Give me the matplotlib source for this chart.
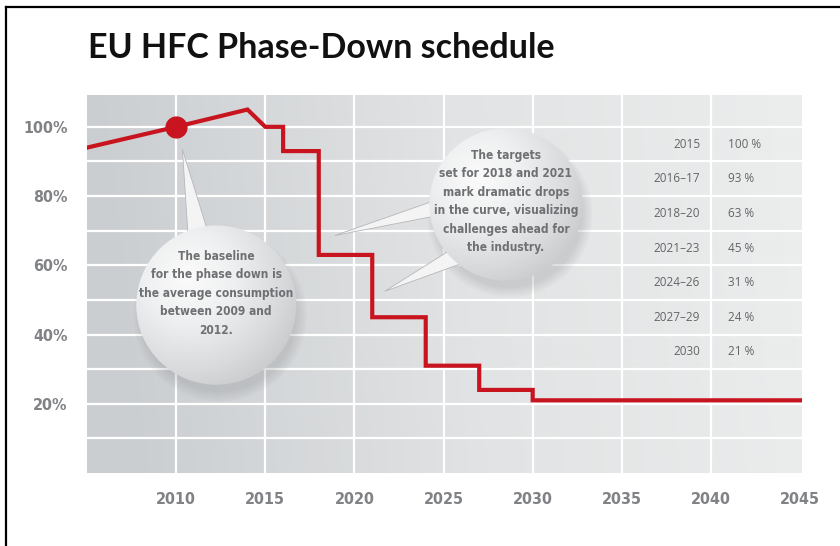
import matplotlib
matplotlib.use("Agg")
import matplotlib.pyplot as plt
import numpy as np
from matplotlib.colors import LinearSegmentedColormap
from matplotlib.patches import Ellipse, Polygon
from matplotlib.lines import Line2D
from matplotlib import font_manager

# dati del grafico
anni_storia = [2005, 2010, 2014, 2015]
valori_storia = [94, 100, 105, 100]           # percentuale
anni_gradini = [2015, 2016, 2018, 2021, 2024, 2027, 2030, 2045]
valori_gradini = [100, 93, 63, 45, 31, 24, 21, 21]

tab_periodi = ["2015", "2016\u201317", "2018\u201320", "2021\u201323", "2024\u201326", "2027\u201329", "2030"]
tab_valori = ["100 %", "93 %", "63 %", "45 %", "31 %", "24 %", "21 %"]
tab_righe_y = [95, 85, 75, 65, 55, 45, 35]

xticks = [2010, 2015, 2020, 2025, 2030, 2035, 2040, 2045]
yticks = [20, 40, 60, 80, 100]

testo_base = "The baseline\nfor the phase down is\nthe average consumption\nbetween 2009 and\n2012."
testo_target = "The targets\nset for 2018 and 2021\nmark dramatic drops\nin the curve, visualizing\nchallenges ahead for\nthe industry."

ROSSO = "#c8141e"
GRIGIO_TXT = "#808285"

# font stretto se c'e', altrimenti DejaVu condensed
nomi = {f.name for f in font_manager.fontManager.ttflist}
if "Liberation Sans Narrow" in nomi:
    NARROW = dict(family="Liberation Sans Narrow")
else:
    NARROW = dict(family="DejaVu Sans", stretch="condensed")

fig = plt.figure(figsize=(8.4, 5.46), dpi=100)
ax = fig.add_axes([0.1036, 0.1337, 0.851, 0.6923])
X0, X1, Y0, Y1 = 2005, 2045.1, 0, 109.2

# sfondo grigio sfumato
grad = np.linspace(0, 1, 256)[None, :] * np.ones((64, 1))
vgrad = np.linspace(0.06, 0, 64)[:, None]
sfondo = LinearSegmentedColormap.from_list("sf", ["#cbced1", "#e1e3e4", "#eceded"])
ax.imshow(np.clip(grad - vgrad, 0, 1), extent=[X0, X1, Y0, Y1], cmap=sfondo,
          aspect="auto", origin="lower", zorder=0, vmin=0, vmax=1)

for x in range(2010, 2045, 5):
    ax.axvline(x, color="white", lw=1.6, zorder=1)
for y in range(10, 101, 10):
    ax.axhline(y, color="white", lw=1.6, zorder=1)

# linea rossa: storia + gradini
xs = list(anni_storia)
ys = list(valori_storia)
for i in range(1, len(anni_gradini)):
    xs += [anni_gradini[i], anni_gradini[i]]
    ys += [valori_gradini[i - 1], valori_gradini[i]]
ax.plot(xs, ys, color=ROSSO, lw=3.0, zorder=5, solid_joinstyle="miter")
ax.plot([2010], [100], "o", color=ROSSO, markersize=15, zorder=6)

bolla_cmap = LinearSegmentedColormap.from_list("bl", ["#fbfbfb", "#eeeff0", "#d8dadc", "#bfc1c3"])


def bolla(cx, cy, rx, ry, testo, ty, code):
    # ombra leggera sotto
    for k in range(5):
        s = 0.96 + 0.03 * k
        ax.add_patch(Ellipse((cx + 0.2, cy - 3.0), 2 * rx * s, 2 * ry * s,
                             color="#707275", alpha=0.045, lw=0, zorder=2))
    for c in code:
        ax.add_patch(Polygon(c, closed=True, facecolor="#f4f4f5", edgecolor="#b5b7b9",
                             lw=0.6, zorder=3))
    e = Ellipse((cx, cy), 2 * rx, 2 * ry, facecolor="none", edgecolor="none", zorder=4)
    ax.add_patch(e)
    gx, gy = np.meshgrid(np.linspace(-1, 1, 200), np.linspace(-1, 1, 200))
    d = np.sqrt((gx + 0.35) ** 2 + (gy - 0.35) ** 2) / 1.75
    im = ax.imshow(d, extent=[cx - rx, cx + rx, cy - ry, cy + ry], cmap=bolla_cmap,
                   origin="lower", aspect="auto", zorder=4, vmin=0, vmax=1)
    im.set_clip_path(e)
    ax.text(cx, ty, testo, ha="center", va="center", fontsize=8.6, fontweight="bold",
            color="#6f7073", linespacing=1.55, zorder=7, **NARROW)


bolla(2012.25, 48.5, 4.49, 23.0, testo_base, 51.9,
      [[(2010.35, 93.5), (2010.7, 66), (2012.0, 66)]])
bolla(2028.5, 77.6, 4.3, 22.0, testo_target, 78.4,
      [[(2018.9, 68.6), (2025.5, 80.5), (2025.3, 75.0)],
       [(2021.7, 52.5), (2025.4, 64.5), (2026.0, 60.5)]])

# tabella a destra
for per, val, y in zip(tab_periodi, tab_valori, tab_righe_y):
    ax.text(2039.4, y, per, ha="right", va="center", fontsize=8.5, color="#636467",
            family=["Open Sans", "DejaVu Sans"], zorder=7)
    ax.text(2040.95, y, val, ha="left", va="center", fontsize=8.5, color="#636467",
            family=["Open Sans", "DejaVu Sans"], zorder=7)

ax.set_xlim(X0, X1)
ax.set_ylim(Y0, Y1)
ax.set_xticks(xticks)
ax.set_xticklabels([str(t) for t in xticks])
ax.set_yticks(yticks)
ax.set_yticklabels([f"{t}%" for t in yticks])
ax.tick_params(length=0, pad=14, labelsize=11.5, labelcolor=GRIGIO_TXT)
for lab in ax.get_xticklabels() + ax.get_yticklabels():
    lab.set_fontweight("bold")
    lab.set_family(NARROW["family"])
    if "stretch" in NARROW:
        lab.set_stretch(NARROW["stretch"])
for s in ax.spines.values():
    s.set_visible(False)

fig.text(0.105, 0.912, "EU HFC Phase-Down schedule", ha="left", va="center",
         fontsize=24.5, fontweight="bold", family=["Lato", "DejaVu Sans"], color="#111111")

# cornice nera (solo alto e sinistra visibili)
fig.add_artist(Line2D([0.007, 1.0], [0.987, 0.987], color="black", lw=1.6,
                      transform=fig.transFigure))
fig.add_artist(Line2D([0.007, 0.007], [0.0, 0.987], color="black", lw=1.6,
                      transform=fig.transFigure))

fig.savefig("out.png", dpi=100)
